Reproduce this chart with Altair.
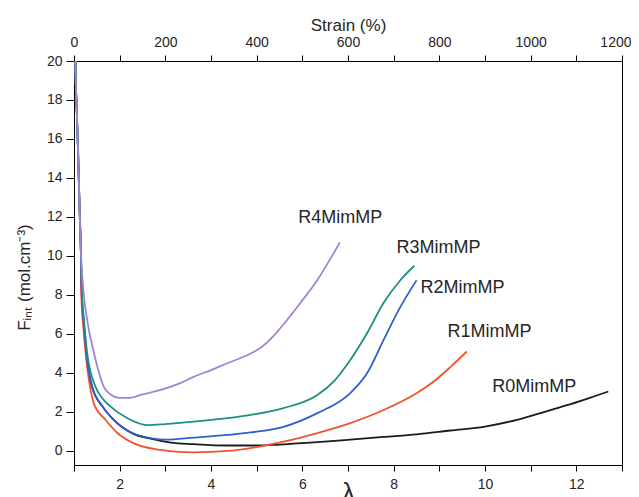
import altair as alt
import pandas as pd

# ---- data ----
series_names = ["R0MimMP", "R1MimMP", "R2MimMP", "R3MimMP", "R4MimMP"]
series_colors = ["#1b1b1b", "#f2522e", "#2d5fcf", "#1d9082", "#a283d4"]

top_lam = [1.025, 1.03, 1.06, 1.09, 1.12, 1.15]
top_F = [22.0, 20.0, 17.5, 15.3, 12.6, 10.3]

r0_lam = [1.17, 1.21, 1.27, 1.40, 1.62, 1.87, 2.28, 2.7, 3.12, 3.62, 4.36, 5.0, 5.5, 6.33, 7.05, 7.78, 8.5, 9.24, 10.0, 10.7, 11.43, 11.8, 12.2, 12.7]
r0_F = [8.1, 6.7, 5.0, 3.25, 2.3, 1.6, 0.9, 0.62, 0.43, 0.35, 0.28, 0.28, 0.33, 0.45, 0.58, 0.72, 0.85, 1.05, 1.25, 1.6, 2.1, 2.35, 2.65, 3.05]

r1_lam = [1.16, 1.21, 1.256, 1.35, 1.44, 1.69, 1.95, 2.3, 2.9, 3.3, 3.62, 4.0, 4.36, 4.87, 5.59, 6.33, 7.05, 7.78, 8.51, 8.87, 9.24, 9.6]
r1_F = [8.0, 6.2, 5.0, 3.3, 2.4, 1.6, 0.92, 0.4, 0.05, -0.05, -0.07, -0.05, 0.0, 0.15, 0.48, 0.92, 1.43, 2.1, 2.97, 3.55, 4.3, 5.1]

r2_lam = [1.17, 1.21, 1.27, 1.40, 1.62, 1.87, 2.28, 2.7, 3.0, 3.62, 4.36, 4.87, 5.59, 6.33, 7.05, 7.42, 7.78, 8.15, 8.5]
r2_F = [8.0, 6.7, 5.0, 3.3, 2.3, 1.6, 0.92, 0.65, 0.58, 0.68, 0.82, 0.95, 1.24, 1.94, 2.97, 4.0, 5.7, 7.4, 8.75]

r3_lam = [1.17, 1.22, 1.29, 1.47, 1.62, 1.8, 2.17, 2.6, 3.0, 3.62, 4.36, 4.87, 5.59, 6.33, 6.7, 7.05, 7.42, 7.78, 8.15, 8.45]
r3_F = [8.4, 6.7, 5.0, 3.3, 2.7, 2.27, 1.68, 1.33, 1.38, 1.5, 1.68, 1.85, 2.2, 2.87, 3.6, 4.67, 6.05, 7.6, 8.77, 9.5]

r4_lam = [1.2, 1.29, 1.44, 1.55, 1.65, 1.8, 2.0, 2.2, 2.5, 2.9, 3.3, 3.62, 4.0, 4.36, 4.87, 5.08, 5.35, 5.59, 5.96, 6.33, 6.6, 6.82]
r4_F = [8.4, 6.7, 5.0, 4.0, 3.3, 2.9, 2.72, 2.72, 2.9, 3.13, 3.45, 3.8, 4.15, 4.5, 5.0, 5.28, 5.85, 6.5, 7.6, 8.77, 9.8, 10.7]

label_lam = [10.16, 9.18, 8.59, 8.06, 5.91]
label_F = [3.28, 6.10, 8.36, 10.41, 11.95]

x_ticks = list(range(1, 14))
y_ticks = list(range(0, 21))

# ---- build tables ----
rows = []
for name, lams, Fs in zip(series_names,
                          [r0_lam, r1_lam, r2_lam, r3_lam, r4_lam],
                          [r0_F, r1_F, r2_F, r3_F, r4_F]):
    all_l = top_lam + lams
    all_f = top_F + Fs
    for i, (l, f) in enumerate(zip(all_l, all_f)):
        rows.append({"series": name, "lam": l, "F": f, "idx": i})
df = pd.DataFrame(rows)
labels = pd.DataFrame({"name": series_names, "lam": label_lam, "F": label_F})

FONT = "Liberation Sans"

x_scale = alt.Scale(domain=[1, 13], nice=False, zero=False)
y_scale = alt.Scale(domain=[-0.72, 20], nice=False, zero=False)

lines = alt.Chart(df).mark_line(strokeWidth=1.8, clip=True, interpolate="monotone").encode(
    x=alt.X("lam:Q", scale=x_scale,
            axis=alt.Axis(orient="bottom", values=x_ticks,
                          labelExpr="datum.value % 2 == 0 ? datum.value : ''",
                          title="λ", titleFontSize=25, titleFont=FONT,
                          titleFontWeight="normal", titleY=15, titleBaseline="top",
                          tickSize=6, labelPadding=6)),
    y=alt.Y("F:Q", scale=y_scale,
            axis=alt.Axis(orient="left", values=y_ticks,
                          labelExpr="datum.value % 2 == 0 ? datum.value : ''",
                          tickSize={"condition": {"test": "datum.value % 2 == 0", "value": 8}, "value": 4},
                          labelPadding=4,
                          title="Fᵢₙₜ (mol.cm⁻³)", titleFontSize=17, titleFont=FONT,
                          titleFontWeight="normal", titleAngle=270, titleX=-50, titleY=216,
                          titleAlign="center", titleBaseline="middle")),
    color=alt.Color("series:N", scale=alt.Scale(domain=series_names, range=series_colors), legend=None),
    order=alt.Order("idx:Q"),
)

texts = alt.Chart(labels).mark_text(align="left", baseline="middle", fontSize=18, font=FONT, color="#262626").encode(
    x=alt.X("lam:Q", scale=x_scale,
            axis=alt.Axis(orient="top", values=x_ticks,
                          labelExpr="datum.value % 2 == 1 ? format((datum.value - 1) * 100, 'd') : ''",
                          labelAlign={"condition": {"test": "datum.value == 13", "value": "right"}, "value": "center"},
                          labelOffset={"condition": {"test": "datum.value == 13", "value": 9}, "value": 0},
                          title="Strain (%)", titleFontSize=17, titleFont=FONT,
                          titleFontWeight="normal", titleY=-36, titleBaseline="middle",
                          tickSize=6, labelPadding=6)),
    y=alt.Y("F:Q", scale=y_scale),
    text="name:N",
)

chart = alt.layer(lines, texts).resolve_axis(x="independent").properties(
    width=548, height=404,
    autosize=alt.AutoSizeParams(type="none"),
    padding={"left": 66, "top": 53, "right": 9, "bottom": 32},
    background="white",
).configure_view(stroke="black", strokeWidth=1).configure_axis(
    domainColor="black", domainWidth=1, tickColor="black", tickWidth=1,
    labelFont=FONT, labelFontSize=14, labelColor="#262626", titleColor="#262626",
    grid=False, labelFlush=False, labelOverlap=False,
)

chart.save("out.html", embed_options={"renderer": "svg", "actions": False})
